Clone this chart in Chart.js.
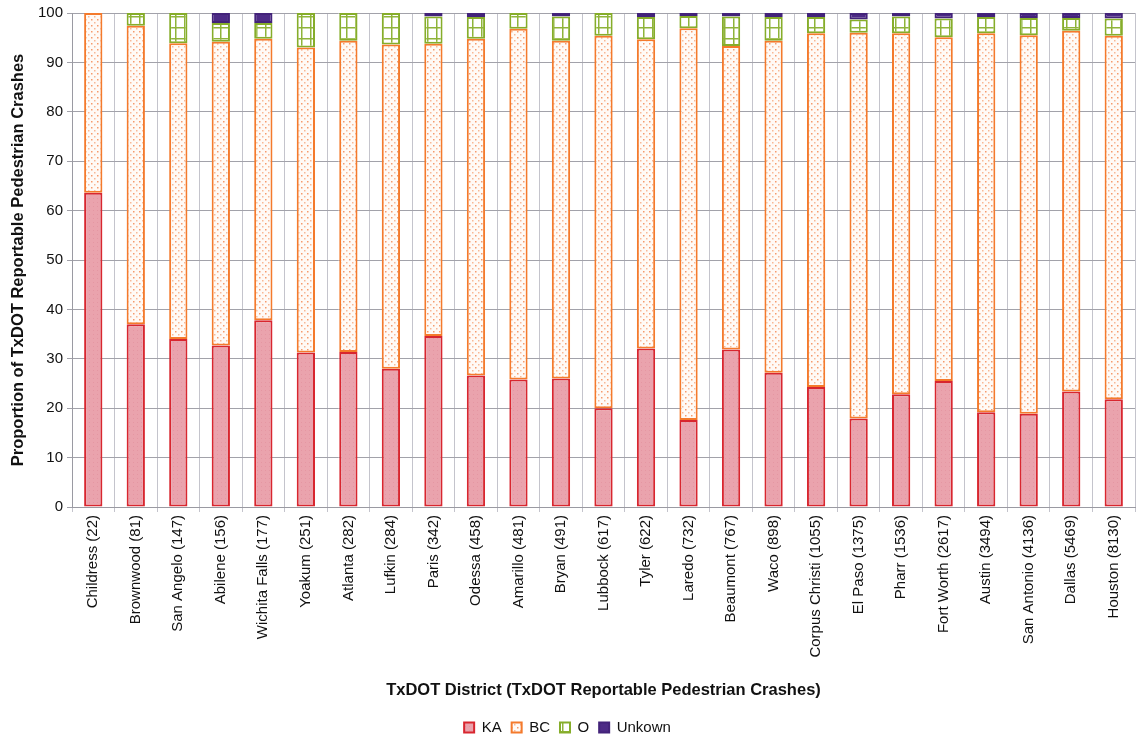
<!DOCTYPE html>
<html>
<head>
<meta charset="utf-8">
<script src="https://cdn.jsdelivr.net/npm/chart.js@4/dist/chart.umd.min.js"></script>
<style>
  html, body { margin: 0; padding: 0; background: #fff; }
  #wrap { width: 1139px; height: 737px; }
</style>
</head>
<body>
<div id="wrap"><canvas id="crashChart" width="1139" height="737"></canvas></div>
<script>
const districts = ['Childress (22)', 'Brownwood (81)', 'San Angelo (147)', 'Abilene (156)', 'Wichita Falls (177)',
    'Yoakum (251)', 'Atlanta (282)', 'Lufkin (284)', 'Paris (342)', 'Odessa (458)', 'Amarillo (481)', 'Bryan (491)',
    'Lubbock (617)', 'Tyler (622)', 'Laredo (732)', 'Beaumont (767)', 'Waco (898)', 'Corpus Christi (1055)',
    'El Paso (1375)', 'Pharr (1536)', 'Fort Worth (2617)', 'Austin (3494)', 'San Antonio (4136)', 'Dallas (5469)',
    'Houston (8130)'];

const ka      = [63.6, 37.0, 34.0, 32.7, 37.8, 31.3, 31.4, 28.0, 34.6, 26.6, 25.8, 26.0, 20.0, 32.1, 17.6, 31.9, 27.2, 24.3, 17.9, 22.8, 25.5, 19.2, 18.9, 23.4, 21.8];
const bc      = [36.4, 60.4, 59.9, 61.5, 57.0, 61.7, 63.0, 65.6, 59.2, 68.2, 71.0, 68.4, 75.4, 62.6, 79.3, 61.4, 67.2, 71.6, 78.1, 73.1, 69.6, 76.7, 76.6, 73.0, 73.6];
const o       = [0.0, 2.6, 6.1, 3.8, 3.2, 7.0, 5.6, 6.4, 5.5, 4.4, 3.2, 4.9, 4.6, 4.5, 2.5, 6.0, 4.8, 3.3, 2.7, 3.4, 3.8, 3.3, 3.5, 2.6, 3.5];
const unknown = [0.0, 0.0, 0.0, 2.0, 2.0, 0.0, 0.0, 0.0, 0.7, 0.8, 0.0, 0.7, 0.0, 0.8, 0.6, 0.7, 0.8, 0.8, 1.3, 0.7, 1.1, 0.8, 1.0, 1.0, 1.1];

const yTicks = [0, 10, 20, 30, 40, 50, 60, 70, 80, 90, 100];

const ctx = document.getElementById('crashChart').getContext('2d');

// little tiles for the old spreadsheet fill styles
const tile = (w, h, draw) => {
    const c = document.createElement('canvas');
    c.width = w; c.height = h;
    draw(c.getContext('2d'));
    return ctx.createPattern(c, 'repeat');
};

const kaFill = tile(4, 4, g => {
    g.fillStyle = '#eaa3ad'; g.fillRect(0, 0, 4, 4);
    g.fillStyle = '#e596a2'; g.fillRect(1, 2, 1, 1);
});
const bcFill = tile(6, 6, g => {
    g.fillStyle = '#fffaf6'; g.fillRect(0, 0, 6, 6);
    g.fillStyle = '#f59a6c'; g.fillRect(1, 1, 1.5, 1.5);
    g.fillStyle = '#f8b896'; g.fillRect(4, 4, 1.5, 1.5);
});
const oFill = tile(9, 11, g => {
    g.fillStyle = '#ffffff'; g.fillRect(0, 0, 9, 11);
    g.fillStyle = '#8fb43a';
    g.fillRect(4, 0, 1.5, 11);
    g.fillRect(0, 5, 9, 1.5);
});

const seg = (label, data, fill, border, order) => ({
    label, data, order,
    backgroundColor: fill,
    borderColor: border,
    borderWidth: 2,
    borderSkipped: false,
    barPercentage: 0.43,
    categoryPercentage: 1,
});

const font = { family: 'Liberation Sans, Arial', size: 15 };
const titleFont = { family: 'Liberation Sans, Arial', size: 16.5, weight: 'bold' };

new Chart(ctx, {
    type: 'bar',
    data: {
        labels: districts,
        datasets: [
            seg('KA', ka, kaFill, '#d8262f', 0),
            seg('BC', bc, bcFill, '#f47a2c', 1),
            seg('O', o, oFill, '#86ad2a', 2),
            seg('Unkown', unknown, '#4d2b86', '#43237a', 3),
        ],
    },
    options: {
        responsive: false,
        animation: false,
        layout: { padding: { left: 0, right: 4, top: 5, bottom: -8 } },
        plugins: {
            legend: {
                position: 'bottom',
                labels: { boxWidth: 10, boxHeight: 10, padding: 10, font, color: '#111' },
            },
            tooltip: { enabled: false },
        },
        scales: {
            x: {
                stacked: true,
                grid: { color: '#c4c4cc', tickLength: 5, offset: true },
                border: { color: '#9a9aa2' },
                ticks: { autoSkip: false, minRotation: 90, maxRotation: 90, font, color: '#111', padding: 3 },
                title: {
                    display: true,
                    text: 'TxDOT District (TxDOT Reportable Pedestrian Crashes)',
                    font: titleFont, color: '#111',
                    padding: { top: 10, bottom: 10 },
                },
                afterFit: s => { s.height = 203; },
            },
            y: {
                stacked: true,
                min: 0, max: 100,
                afterBuildTicks: s => { s.ticks = yTicks.map(v => ({ value: v })); },
                grid: { color: '#a2a2aa', tickLength: 5 },
                border: { color: '#9a9aa2' },
                ticks: { font, color: '#111', padding: 4 },
                title: {
                    display: true,
                    text: 'Proportion of TxDOT Reportable Pedestrian Crashes',
                    font: titleFont, color: '#111',
                    padding: { top: 9, bottom: 4 },
                },
                afterFit: s => { s.width = 72; },
            },
        },
    },
});
</script>
</body>
</html>
